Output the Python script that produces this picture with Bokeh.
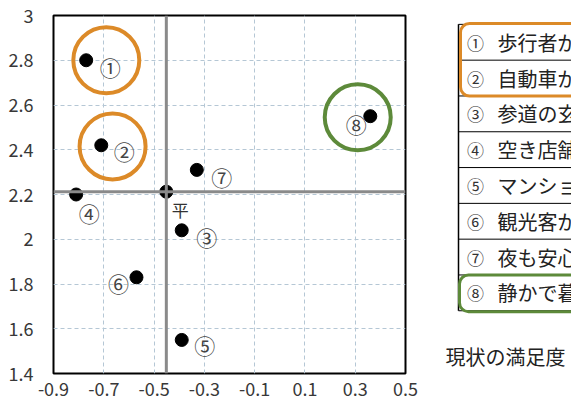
from bokeh.plotting import figure
from bokeh.layouts import row
from bokeh.models import Range1d, Span, FixedTicker, CustomJSTickFormatter, ColumnDataSource
from bokeh.core.properties import value
from bokeh.embed import file_html
from bokeh.resources import INLINE

FONT = "Noto Sans CJK JP"

# ---- data ----
labels = ["①", "②", "③", "④", "⑤", "⑥", "⑦", "⑧"]
x_vals = [-0.77, -0.71, -0.39, -0.81, -0.39, -0.57, -0.33, 0.36]
y_vals = [2.80, 2.42, 2.04, 2.20, 1.55, 1.83, 2.31, 2.55]
items = ["歩行者が", "自動車が", "参道の玄", "空き店舗", "マンショ", "観光客が", "夜も安心", "静かで暮"]
mean_label = "平"
highlight_x = [-0.69, -0.665, 0.31]
highlight_y = [2.80, 2.415, 2.545]
x_ticks = [-0.9, -0.7, -0.5, -0.3, -0.1, 0.1, 0.3, 0.5]
y_ticks = [1.4, 1.6, 1.8, 2.0, 2.2, 2.4, 2.6, 2.8, 3.0]
table_title = "現状の満足度"

ORANGE = "#dc8a28"
GREEN = "#5d8a3a"
highlight_colors = [ORANGE, ORANGE, GREEN]
label_dx = [24, 23, 25, 13, 23, -18, 25, -14]
label_dy = [7, 6, 7, 18, 5, 6, 7, 8]

mean_x = sum(x_vals) / len(x_vals)
mean_y = sum(y_vals) / len(y_vals)

# ---- main scatter ----
p = figure(frame_width=352, frame_height=358, min_border_left=53, min_border_right=20,
           min_border_top=15, min_border_bottom=31,
           x_range=Range1d(-0.9, 0.5), y_range=Range1d(1.4, 3.0),
           output_backend="svg", toolbar_location=None)

fmt = CustomJSTickFormatter(code="return Number(tick.toFixed(1)).toString();")
for ax, ticks in ((p.xaxis[0], x_ticks), (p.yaxis[0], y_ticks)):
    ax.ticker = FixedTicker(ticks=ticks)
    ax.formatter = fmt
    ax.axis_line_color = None
    ax.major_tick_line_color = None
    ax.minor_tick_line_color = None
    ax.major_label_text_font = FONT
    ax.major_label_text_font_size = "18px"
    ax.major_label_text_color = "#383838"
p.yaxis.major_label_standoff = 14
p.xaxis.major_label_standoff = 2

for g in (p.xgrid, p.ygrid):
    g.grid_line_color = "#b5c7d5"
    g.grid_line_dash = "4 3"
    g.grid_line_width = 1

p.outline_line_color = "black"
p.outline_line_width = 2
p.outline_line_alpha = 1

src = ColumnDataSource(dict(x=x_vals, y=y_vals, t=labels, dx=label_dx, dy=label_dy))
p.scatter("x", "y", source=src, size=13, color="black")
p.text("x", "y", text="t", source=src, x_offset="dx", y_offset="dy",
       text_align="center", text_baseline="middle", text_font=value(FONT),
       text_font_size="21px", text_color="#444444")

p.scatter([mean_x], [mean_y], size=13, color="black")
p.add_layout(Span(location=mean_x, dimension="height", line_color="#8a8a8a", line_width=3))
p.add_layout(Span(location=mean_y, dimension="width", line_color="#8a8a8a", line_width=3))
p.text([mean_x], [mean_y], text=[mean_label], x_offset=14, y_offset=18,
       text_align="center", text_baseline="middle", text_font=value(FONT),
       text_font_size="17px", text_color="#333333")

p.scatter(highlight_x, highlight_y, size=66, fill_color=None,
          line_color=highlight_colors, line_width=4)

# ---- table / legend ----
W, H = 146, 404
t = figure(width=W, height=H, x_range=Range1d(0, W), y_range=Range1d(H, 0),
           min_border=0, output_backend="svg", toolbar_location=None,
           x_axis_type=None, y_axis_type=None)
t.outline_line_color = None
t.grid.visible = False

top, rh, left = 10, 40.4, 33
n = len(items)
row_y = [top + i * rh for i in range(n + 1)]
t.segment(x0=[left] * (n + 1), y0=row_y, x1=[W + 5] * (n + 1), y1=row_y,
          line_color="black", line_width=1)
t.segment(x0=[left], y0=[top], x1=[left], y1=[row_y[-1]], line_color="black", line_width=1.5)

t.quad(left=[left + 2], right=[W + 40], top=[top - 1], bottom=[row_y[2]], border_radius=9,
       fill_color=None, line_color=ORANGE, line_width=3)
t.quad(left=[left + 1], right=[W + 40], top=[row_y[7]], bottom=[row_y[8] + 1], border_radius=9,
       fill_color=None, line_color=GREEN, line_width=3)

row_c = [top + rh / 2 + i * rh for i in range(n)]
t.text(x=[50] * n, y=row_c, text=labels,
       text_align="center", text_baseline="middle", text_font=value(FONT),
       text_font_size="17px", text_color="#333333")
t.text(x=[72] * n, y=row_c, text=items,
       text_align="left", text_baseline="middle", text_font=value(FONT),
       text_font_size="20px", text_color="#222222")
t.text(x=[20], y=[385], text=[table_title], text_align="left", text_baseline="middle",
       text_font=value(FONT), text_font_size="20px", text_color="#222222")

layout = row(p, t)
open("out.html", "w").write(file_html(layout, INLINE))
